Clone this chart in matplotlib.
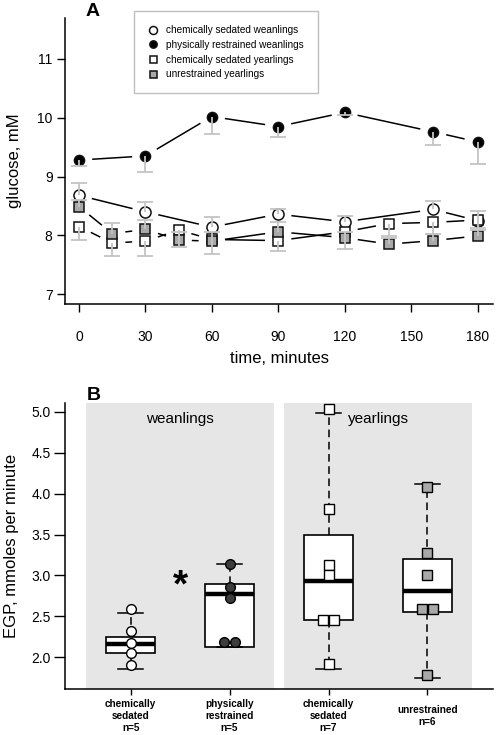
import matplotlib
matplotlib.use("Agg")
import matplotlib.pyplot as plt
import numpy as np

plt.rcParams['font.family'] = ['Liberation Sans', 'DejaVu Sans']

# panel A: plasma glucose (mM) against time (min)
t_wean = [0, 30, 60, 90, 120, 160, 180]
t_year = [0, 15, 30, 45, 60, 90, 120, 140, 160, 180]

cs_wean = [8.68, 8.40, 8.14, 8.36, 8.23, 8.44, 8.25]
cs_wean_bar = [8.89, 8.56, 8.32, 8.45, 8.33, 8.58, 8.42]   # upper bar ends
pr_wean = [9.28, 9.35, 10.02, 9.85, 10.09, 9.76, 9.59]
pr_wean_bar = [9.18, 9.08, 9.72, 9.68, 10.05, 9.53, 9.21]  # lower bar ends
cs_year = [8.15, 7.87, 7.90, 8.09, 7.93, 7.91, 8.06, 8.20, 8.22, 8.26]
cs_year_bar = [7.92, 7.65, 7.65, 7.80, 7.68, 7.74, 7.76, 7.98, 8.02, 8.12]
un_year = [8.49, 8.03, 8.10, 7.92, 7.90, 8.06, 7.96, 7.85, 7.91, 7.99]
un_year_bar = [8.60, 8.21, 8.26, 8.05, 8.06, 8.22, 8.05, 7.96, 8.03, 8.09]

# panel B: EGP box plots
groups = ['chemically\nsedated\nn=5', 'physically\nrestrained\nn=5',
          'chemically\nsedated\nn=7', 'unrestrained\nn=6']
q1 = [2.05, 2.13, 2.45, 2.55]
med = [2.16, 2.77, 2.93, 2.81]
q3 = [2.25, 2.90, 3.50, 3.20]
whislo = [1.86, 2.13, 1.86, 1.75]
whishi = [2.54, 3.14, 4.98, 4.12]
egp_pts = [[2.59, 2.32, 2.18, 2.05, 1.91],
           [3.14, 2.86, 2.72, 2.19, 2.19],
           [5.03, 3.81, 3.13, 3.00, 2.46, 2.46, 1.92],
           [4.08, 3.27, 3.00, 2.59, 2.59, 1.78]]
age_groups = ['weanlings', 'yearlings']

GRAY_BAR = '#c4c4c4'
GRAY_SQ = '#a9a9a9'

fig = plt.figure(figsize=(4.98, 7.35), dpi=100)
ax = fig.add_axes([65/498, 1-304/735, 428/498, 286/735])
ax.set_xlim(-6.3, 187)
ax.set_ylim(6.832, 11.696)


def gapped_line(ax, x, y, gap=14, **kw):
    # Igor-style line that stops short of each marker
    pts = ax.transData.transform(np.column_stack([x, y]))
    inv = ax.transData.inverted()
    for p0, p1 in zip(pts[:-1], pts[1:]):
        d = p1 - p0
        L = np.hypot(*d)
        if L <= 2*gap:
            continue
        u = d/L
        a = inv.transform(p0 + u*gap)
        b = inv.transform(p1 - u*gap)
        ax.plot([a[0], b[0]], [a[1], b[1]], **kw)


series = [
    (t_wean, cs_wean, cs_wean_bar, 'o', 'white', 8.0, 'chemically sedated weanlings'),
    (t_wean, pr_wean, pr_wean_bar, 'o', 'black', 7.3, 'physically restrained weanlings'),
    (t_year, cs_year, cs_year_bar, 's', 'white', 7.0, 'chemically sedated yearlings'),
    (t_year, un_year, un_year_bar, 's', GRAY_SQ, 7.0, 'unrestrained yearlings'),
]
handles = []
for t, v, bar, m, fc, ms, lab in series:
    gapped_line(ax, t, v, color='black', lw=1.1, zorder=2)
    h, = ax.plot(t, v, ls='none', marker=m, ms=ms, mfc=fc, mec='#111111',
                 mew=1.1, zorder=4, label=lab)
    handles.append(h)
    ax.vlines(t, v, bar, color=GRAY_BAR, lw=1.3, zorder=6)
    ax.plot(t, bar, ls='none', marker='_', ms=12, mew=1.3, color=GRAY_BAR, zorder=6)

ax.set_xticks(np.arange(0, 181, 30))
ax.set_yticks([7, 8, 9, 10, 11])
ax.tick_params(direction='out', length=6, width=1, labelsize=10, pad=3)
ax.tick_params(axis='x', pad=12.5)
for s in ['top', 'right']:
    ax.spines[s].set_visible(False)
for s in ['left', 'bottom']:
    ax.spines[s].set_linewidth(1.1)
ax.set_xlabel('time, minutes', fontsize=12, labelpad=5.5)
ax.set_ylabel('glucose, mM', fontsize=12, labelpad=11)

leg = ax.legend(handles=handles, loc='upper left', bbox_to_anchor=(134/498, 1-11/735),
                bbox_transform=fig.transFigure, frameon=True, fancybox=False,
                edgecolor='#b0b0b0', fontsize=7.2, markerscale=0.72,
                handlelength=1.0, handletextpad=0.8, labelspacing=0.48,
                borderpad=1.4, borderaxespad=0)
leg.get_frame().set_linewidth(1.0)

fig.text(93/498, 1-12/735, 'A', fontsize=14, fontweight='bold', ha='center', va='center')

# ---- panel B
bx = fig.add_axes([65/498, 1-689/735, 427.7/498, 285.7/735])
pos = np.arange(1, len(groups)+1)
bx.set_xlim(0.336, 4.66)
bx.set_ylim(1.613, 5.103)

for i, name in enumerate(age_groups):
    lo, hi = pos[2*i] - 0.45, pos[2*i+1] + 0.45
    bx.axvspan(lo, hi, color='#e6e6e6', lw=0, zorder=0)
    bx.text((pos[2*i] + pos[2*i+1])/2, 4.91, name, ha='center', va='center', fontsize=11)

stats = [dict(q1=a, med=b, q3=c, whislo=d, whishi=e, fliers=[])
         for a, b, c, d, e in zip(q1, med, q3, whislo, whishi)]
bx.bxp(stats, positions=pos, widths=0.5, capwidths=0.25, patch_artist=True,
       showfliers=False,
       boxprops=dict(facecolor='white', edgecolor='black', lw=1.2),
       medianprops=dict(color='black', lw=3.2, solid_capstyle='butt'),
       whiskerprops=dict(color='black', lw=1.1, ls=(0, (5, 3))),
       capprops=dict(color='black', lw=1.1),
       zorder=2)

pt_style = [('o', 'white'), ('o', '#3c3c3c'), ('s', 'white'), ('s', GRAY_SQ)]
for p, vals, (m, fc) in zip(pos, egp_pts, pt_style):
    vals = np.array(vals)
    xs = np.full(len(vals), float(p))
    for v in np.unique(vals):
        idx = np.where(vals == v)[0]
        if len(idx) > 1:
            xs[idx] = p + np.linspace(-0.055, 0.055, len(idx))
    bx.plot(xs, vals, ls='none', marker=m, ms=7 if m == 'o' else 6.5, mfc=fc,
            mec='black', mew=1.0, zorder=4)

bx.text(1.5, 2.86, '*', fontsize=28, fontweight='bold', ha='center', va='center')

bx.set_xticks(pos)
bx.set_xticklabels(groups, fontsize=7.2, fontweight='bold')
bx.set_yticks(np.arange(2.0, 5.01, 0.5))
bx.set_yticklabels([f'{v:.1f}' for v in np.arange(2.0, 5.01, 0.5)])
bx.tick_params(axis='y', direction='out', length=8, width=1, labelsize=10, pad=2)
bx.tick_params(axis='x', direction='out', length=4.5, width=1, pad=15)
for lab in bx.get_xticklabels():
    lab.set_va('center')
for s in ['top', 'right']:
    bx.spines[s].set_visible(False)
for s in ['left', 'bottom']:
    bx.spines[s].set_linewidth(1.1)
bx.set_ylabel('EGP, mmoles per minute', fontsize=12, labelpad=9)

fig.text(93.5/498, 1-395.5/735, 'B', fontsize=14, fontweight='bold', ha='center', va='center')

fig.savefig('out.png', dpi=100)
